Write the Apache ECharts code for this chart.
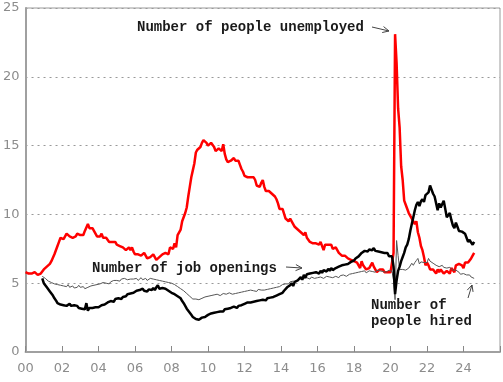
<!DOCTYPE html>
<html><head><meta charset="utf-8">
<script src="https://cdn.jsdelivr.net/npm/echarts@6/dist/echarts.min.js"></script>
<style>html,body{margin:0;padding:0;background:#fff}#c{width:503px;height:382px}</style>
</head><body><div id="c"></div>
<script>
// Monthly series (millions). Unemployed from Jan 2000; openings & hires from Dec 2000.
const unemployedStart = [2000, 1];
const unemployed = [
5.8,5.8,5.7,5.6,5.7,5.6,5.8,5.7,5.6,5.6,5.7,5.7,
6.0,6.1,6.2,6.3,6.4,6.6,6.7,7.1,7.2,7.7,8.0,8.3,
8.2,8.2,8.3,8.6,8.5,8.4,8.4,8.3,8.3,8.4,8.6,8.6,
8.5,8.5,8.5,8.8,8.8,9.3,9.0,9.0,9.0,8.9,8.6,8.4,
8.4,8.4,8.6,8.3,8.3,8.3,8.2,8.0,7.9,8.0,8.0,8.0,
7.8,7.9,7.7,7.7,7.6,7.5,7.4,7.4,7.6,7.4,7.6,7.3,
7.1,7.2,7.1,7.1,7.0,7.1,7.2,7.1,6.8,6.7,6.9,6.8,
7.1,6.9,6.7,6.8,6.9,7.0,7.1,7.1,7.2,7.3,7.1,7.6,
7.7,7.5,7.9,7.6,8.5,8.6,8.9,9.5,9.5,10.1,10.5,11.3,
12.0,12.7,13.2,13.7,14.5,14.7,14.6,14.9,15.2,15.4,15.3,15.2,
15.0,15.1,15.2,15.3,14.9,14.6,14.6,14.8,14.7,14.6,15.1,14.4,
14.0,13.8,13.7,13.9,13.9,14.1,13.9,13.9,13.9,13.6,13.3,13.1,
12.8,12.8,12.7,12.6,12.7,12.7,12.7,12.5,12.1,12.1,12.0,12.3,
12.5,12.0,11.7,11.7,11.7,11.8,11.5,11.4,11.3,11.1,10.8,10.4,
10.3,10.4,10.4,9.7,9.7,9.5,9.7,9.6,9.3,9.1,9.1,8.9,
9.0,8.7,8.6,8.5,8.7,8.3,8.3,8.0,7.9,7.9,7.9,7.9,
7.8,7.8,8.0,7.9,7.4,7.8,7.8,7.8,7.9,7.8,7.5,7.5,
7.6,7.5,7.2,7.1,7.0,7.0,7.0,7.1,6.8,6.7,6.7,6.6,
6.6,6.7,6.5,6.3,6.1,6.6,6.3,6.2,6.0,6.1,6.1,6.3,
6.5,6.2,6.2,5.8,5.9,6.0,6.1,6.0,5.8,5.9,5.8,5.8,
5.8,5.7,7.2,23.1,21.0,17.7,16.3,13.5,12.5,11.0,10.7,10.7,
10.1,9.9,9.7,9.8,9.3,9.5,8.7,8.3,7.7,7.4,6.9,6.3,
6.5,6.3,6.0,5.9,6.0,5.9,5.7,6.0,5.8,6.0,6.0,5.7,
5.7,5.9,5.8,5.7,6.1,6.0,5.8,6.3,6.4,6.4,6.3,6.3,
6.1,6.5,6.4,6.5,6.6,6.8,7.0,7.2
];
const joltsStart = [2000, 12];
const openings = [
5.35,
5.0,4.9,4.7,4.6,4.4,4.25,4.1,3.9,3.75,3.55,3.5,3.45,
3.5,3.4,3.45,3.35,3.4,3.5,3.35,3.3,3.4,3.3,3.35,3.2,
3.3,3.15,3.2,3.1,3.55,3.0,3.2,3.15,3.2,3.3,3.25,3.2,
3.25,3.3,3.4,3.5,3.45,3.55,3.6,3.5,3.7,3.75,3.65,3.85,
3.8,3.9,4.0,3.85,4.0,4.1,4.05,4.2,4.1,4.25,4.2,4.3,
4.3,4.45,4.35,4.5,4.4,4.6,4.45,4.5,4.4,4.55,4.6,4.5,
4.65,4.5,4.7,4.85,4.6,4.7,4.65,4.55,4.6,4.5,4.45,4.4,
4.3,4.25,4.2,4.1,4.05,3.95,3.9,3.7,3.55,3.35,3.15,3.0,
2.85,2.7,2.55,2.5,2.4,2.45,2.35,2.45,2.5,2.45,2.55,2.6,
2.7,2.65,2.8,2.9,2.85,2.95,2.9,3.0,2.95,3.05,2.95,3.1,
3.05,3.15,3.1,3.2,3.15,3.3,3.25,3.2,3.35,3.3,3.4,3.35,
3.5,3.45,3.6,3.5,3.6,3.55,3.65,3.6,3.7,3.65,3.75,3.7,
3.8,3.85,3.75,3.9,3.85,3.95,3.9,4.0,4.05,4.1,4.15,4.2,
4.25,4.3,4.45,4.55,4.7,4.75,4.85,5.0,4.8,5.1,5.0,5.2,
5.3,5.45,5.25,5.6,5.4,5.65,5.55,5.7,5.6,5.75,5.65,5.8,
5.85,5.7,5.9,5.75,5.95,6.0,5.85,6.05,5.9,6.1,5.95,6.05,
6.1,6.05,6.2,6.1,6.3,6.2,6.35,6.3,6.4,6.45,6.55,6.6,
6.65,6.8,6.75,6.95,7.0,7.2,7.15,7.35,7.4,7.3,7.45,7.5,
7.4,7.55,7.35,7.45,7.3,7.4,7.25,7.3,7.2,7.1,7.2,6.95,
7.05,6.95,6.2,4.2,5.2,5.9,6.2,6.6,6.9,7.2,7.6,7.8,
8.2,8.8,9.3,9.8,10.3,10.7,10.9,10.6,10.95,11.1,10.9,11.4,
11.5,11.6,12.1,11.8,11.5,11.3,11.4,10.3,10.8,10.5,10.6,11.0,
10.4,9.8,9.9,10.1,9.6,9.2,9.0,9.4,9.1,8.8,8.9,8.75,
8.7,8.6,8.3,8.0,8.15,7.95,7.8,8.0
];
const hires = [
5.5,
5.6,5.35,5.3,5.15,5.2,5.05,5.1,4.95,5.0,4.9,4.95,4.85,
4.9,4.8,4.85,4.75,4.9,4.7,4.75,4.8,4.65,4.75,4.7,4.85,
4.7,4.65,4.75,4.6,4.55,4.7,4.65,4.8,4.75,4.85,4.8,4.9,
4.85,4.95,4.9,5.05,4.95,5.0,5.1,4.95,5.1,5.05,5.2,5.15,
5.2,5.25,5.15,5.3,5.2,5.35,5.3,5.25,5.35,5.3,5.2,5.3,
5.25,5.35,5.2,5.3,5.4,5.25,5.3,5.35,5.2,5.3,5.35,5.25,
5.3,5.4,5.25,5.3,5.2,5.25,5.15,5.2,5.1,5.15,5.05,5.1,
5.0,4.95,4.9,4.85,4.75,4.7,4.6,4.55,4.45,4.35,4.25,4.15,
4.05,3.95,3.85,3.8,3.85,3.75,3.8,3.85,3.9,3.95,4.0,3.95,
4.05,4.0,4.1,4.2,4.15,4.1,4.2,4.15,4.1,4.2,4.25,4.2,
4.2,4.15,4.3,4.25,4.2,4.3,4.25,4.35,4.3,4.25,4.35,4.3,
4.4,4.35,4.45,4.4,4.5,4.4,4.45,4.5,4.4,4.55,4.45,4.5,
4.55,4.5,4.6,4.55,4.65,4.6,4.7,4.65,4.75,4.7,4.8,4.75,
4.8,4.9,4.85,4.95,5.0,4.95,5.1,5.0,5.15,5.2,5.1,5.25,
5.2,5.3,5.25,5.35,5.3,5.4,5.35,5.3,5.45,5.4,5.35,5.45,
5.4,5.5,5.45,5.4,5.35,5.45,5.5,5.4,5.45,5.35,5.4,5.45,
5.5,5.45,5.4,5.55,5.5,5.6,5.55,5.5,5.6,5.65,5.55,5.7,
5.65,5.75,5.7,5.8,5.75,5.85,5.8,5.9,5.75,5.85,5.9,5.8,
5.85,5.9,5.8,5.95,5.85,5.9,5.95,5.85,5.9,5.8,5.85,5.95,
5.9,5.85,5.2,3.8,8.1,7.0,6.0,5.9,6.0,6.05,5.95,5.9,
6.1,6.2,6.45,6.3,6.5,6.65,6.8,6.4,6.55,6.6,6.5,6.45,
6.5,6.8,6.6,6.55,6.45,6.35,6.3,6.4,6.2,6.25,6.3,6.15,
6.2,6.1,6.05,6.15,6.1,5.95,5.9,5.95,5.85,5.8,5.65,5.75,
5.7,5.75,5.6,5.65,5.6,5.45,5.5,5.35
];
const xTicks = [2000,2002,2004,2006,2008,2010,2012,2014,2016,2018,2020,2022,2024,2026];
const yTicks = [0,5,10,15,20,25];

function toXY(start, vals){
  return vals.map((v,i)=>{const m = start[1]-1+i; return [start[0] + m/12, v];});
}

const chart = echarts.init(document.getElementById('c'), null, {renderer:'canvas'});
const axisGrey = '#a0a0a0';
const labelFont = {color:'#8c8c8c', fontFamily:'DejaVu Sans', fontSize:13};
chart.setOption({
  animation:false,
  grid:{left:23, right:3, top:8, bottom:30, show:true, borderColor:'#9a9a9a', borderWidth:1, backgroundColor:'transparent'},
  xAxis:{type:'value', min:xTicks[0], max:xTicks[xTicks.length-1], interval:2,
    axisLine:{lineStyle:{color:axisGrey, width:2}},
    axisTick:{show:true, inside:true, length:6, lineStyle:{color:'#888', width:1}},
    splitLine:{show:false},
    axisLabel:Object.assign({margin:10, formatter:v=> v>=2026 ? '' : String(v%100).padStart(2,'0')}, labelFont)
  },
  yAxis:{type:'value', min:yTicks[0], max:yTicks[yTicks.length-1], interval:5,
    axisLine:{show:true, lineStyle:{color:axisGrey, width:2}},
    axisTick:{show:false},
    splitLine:{show:true, lineStyle:{color:'#999', type:[2,4], width:1}},
    axisLabel:Object.assign({margin:6}, labelFont)
  },
  series:[
    {name:'Number of people unemployed', type:'line', data:toXY(unemployedStart, unemployed), symbol:'none', lineStyle:{color:'#ff0000', width:2.5}, z:3},
    {name:'Number of people hired', type:'line', data:toXY(joltsStart, hires), symbol:'none', lineStyle:{color:'#555', width:1}, z:4},
    {name:'Number of job openings', type:'line', data:toXY(joltsStart, openings), symbol:'none', lineStyle:{color:'#000', width:2.5}, z:5}
  ]
});

function arrow(x1,y1,x2,y2){
  const a = Math.atan2(y2-y1, x2-x1), L=7, s=0.45;
  return [
    {type:'line', shape:{x1,y1,x2,y2}, style:{stroke:'#444', lineWidth:1}, silent:true},
    {type:'polyline', shape:{points:[[x2-L*Math.cos(a-s), y2-L*Math.sin(a-s)],[x2,y2],[x2-L*Math.cos(a+s), y2-L*Math.sin(a+s)]]}, style:{stroke:'#444', lineWidth:1, fill:null}, silent:true}
  ];
}
const label = (t,x,y)=>({type:'text', x, y, style:{text:t, fill:'#1a1a1a', font:'bold 14px "Liberation Mono"', verticalAlign:'middle', textVerticalAlign:'middle'}, silent:true, z:10});
chart.setOption({graphic:[
  label('Number of people unemployed', 137, 27),
  ...arrow(372,27,389,31),
  label('Number of job openings', 92, 268),
  ...arrow(286,267,302,268),
  label('Number of', 371, 305),
  label('people hired', 371, 321),
  ...arrow(468,298,472,285)
]});
</script></body></html>
